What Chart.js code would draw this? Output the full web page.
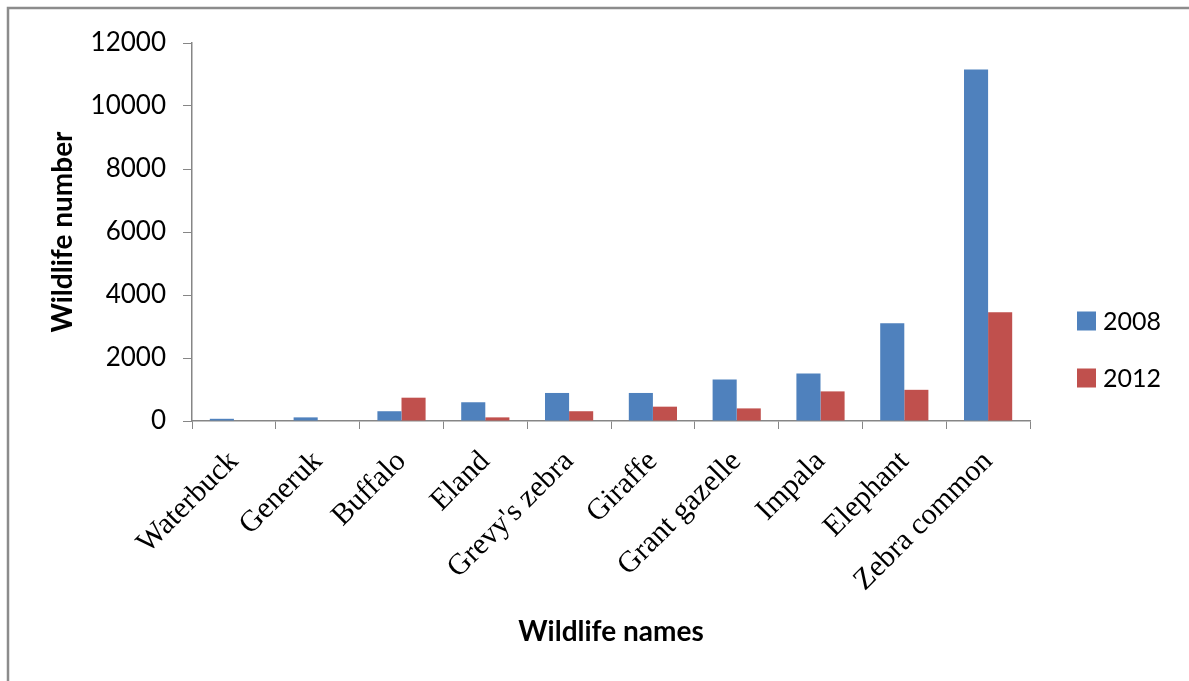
<!DOCTYPE html>
<html>
<head>
<meta charset="utf-8">
<script src="https://cdn.jsdelivr.net/npm/chart.js@4/dist/chart.umd.min.js"></script>
<style>
  html, body { margin: 0; padding: 0; background: #fff; }
  #wrap { width: 1189px; height: 681px; position: relative; }
</style>
</head>
<body>
<div id="wrap"><canvas id="c" width="1189" height="681"></canvas></div>
<script>
// Wildlife counts per species, two survey years
const categories = ['Waterbuck', 'Generuk', 'Buffalo', 'Eland', "Grevy's zebra", 'Giraffe', 'Grant gazelle', 'Impala', 'Elephant', 'Zebra common'];
const seriesLabels = ['2008', '2012'];
const values2008 = [70, 115, 310, 595, 890, 890, 1320, 1510, 3100, 11160];
const values2012 = [0, 0, 740, 115, 310, 455, 400, 940, 990, 3450];
const yTicks = [0, 2000, 4000, 6000, 8000, 10000, 12000];

const AXIS_GREY = '#868686';
const SANS = 'Lato, "Open Sans", sans-serif';
const SERIF = '"Liberation Serif", "DejaVu Serif", serif';

// Outer frame (top and left edges) plus a right-hand legend
const framePlugin = {
  id: 'frame',
  beforeDraw(chart) {
    const ctx = chart.ctx;
    ctx.save();
    ctx.fillStyle = '#ffffff';
    ctx.fillRect(0, 0, chart.width, chart.height);
    ctx.strokeStyle = '#8c8c8c';
    ctx.lineWidth = 2.5;
    ctx.beginPath();
    ctx.moveTo(8, chart.height);
    ctx.lineTo(8, 8);
    ctx.lineTo(chart.width, 8);
    ctx.stroke();
    ctx.restore();
  },
  afterDraw(chart) {
    const ctx = chart.ctx;
    const area = chart.chartArea;
    ctx.save();
    ctx.font = '25px ' + SANS;
    ctx.textBaseline = 'middle';
    ctx.textAlign = 'left';
    const rowsY = [321, 378];
    chart.data.datasets.forEach((ds, i) => {
      const x = area.right + 47;
      const y = rowsY[i];
      ctx.fillStyle = ds.backgroundColor;
      ctx.fillRect(x, y - 9.5, 19, 19);
      ctx.fillStyle = '#000';
      ctx.fillText(ds.label, x + 26, y + 1);
    });
    ctx.restore();
  }
};

new Chart(document.getElementById('c'), {
  type: 'bar',
  data: {
    labels: categories,
    datasets: [
      { label: seriesLabels[0], data: values2008, backgroundColor: '#4F81BD', borderWidth: 0 },
      { label: seriesLabels[1], data: values2012, backgroundColor: '#C0504D', borderWidth: 0 }
    ]
  },
  options: {
    responsive: false,
    animation: false,
    devicePixelRatio: 1,
    layout: { padding: { left: 46, right: 159, top: 43, bottom: 32 } },
    datasets: { bar: { categoryPercentage: 0.575, barPercentage: 1.0 } },
    plugins: {
      legend: { display: false },
      tooltip: { enabled: false }
    },
    scales: {
      x: {
        grid: { display: true, drawOnChartArea: false, drawTicks: true, tickLength: 8, color: AXIS_GREY, offset: true },
        border: { display: true, color: AXIS_GREY, width: 1.5 },
        ticks: { color: '#000', font: { family: SERIF, size: 30 }, minRotation: 45, maxRotation: 45, autoSkip: false, padding: 15 },
        title: { display: true, text: 'Wildlife names', color: '#000', font: { family: SANS, size: 28, weight: 'bold' }, padding: 0 },
        afterFit(scale) { scale.height = 228; }
      },
      y: {
        min: 0,
        max: 12000,
        afterBuildTicks(scale) { scale.ticks = yTicks.map(v => ({ value: v })); },
        grid: { display: true, drawOnChartArea: false, drawTicks: true, tickLength: 9, color: AXIS_GREY },
        border: { display: true, color: AXIS_GREY, width: 1.5 },
        ticks: { color: '#000', font: { family: SANS, size: 26 }, padding: 17, callback: (v) => String(v) },
        title: { display: true, text: 'Wildlife number', color: '#000', font: { family: SANS, size: 28, weight: 'bold' }, padding: 0 },
        afterFit(scale) { scale.width = 146; }
      }
    }
  },
  plugins: [framePlugin]
});
</script>
</body>
</html>
